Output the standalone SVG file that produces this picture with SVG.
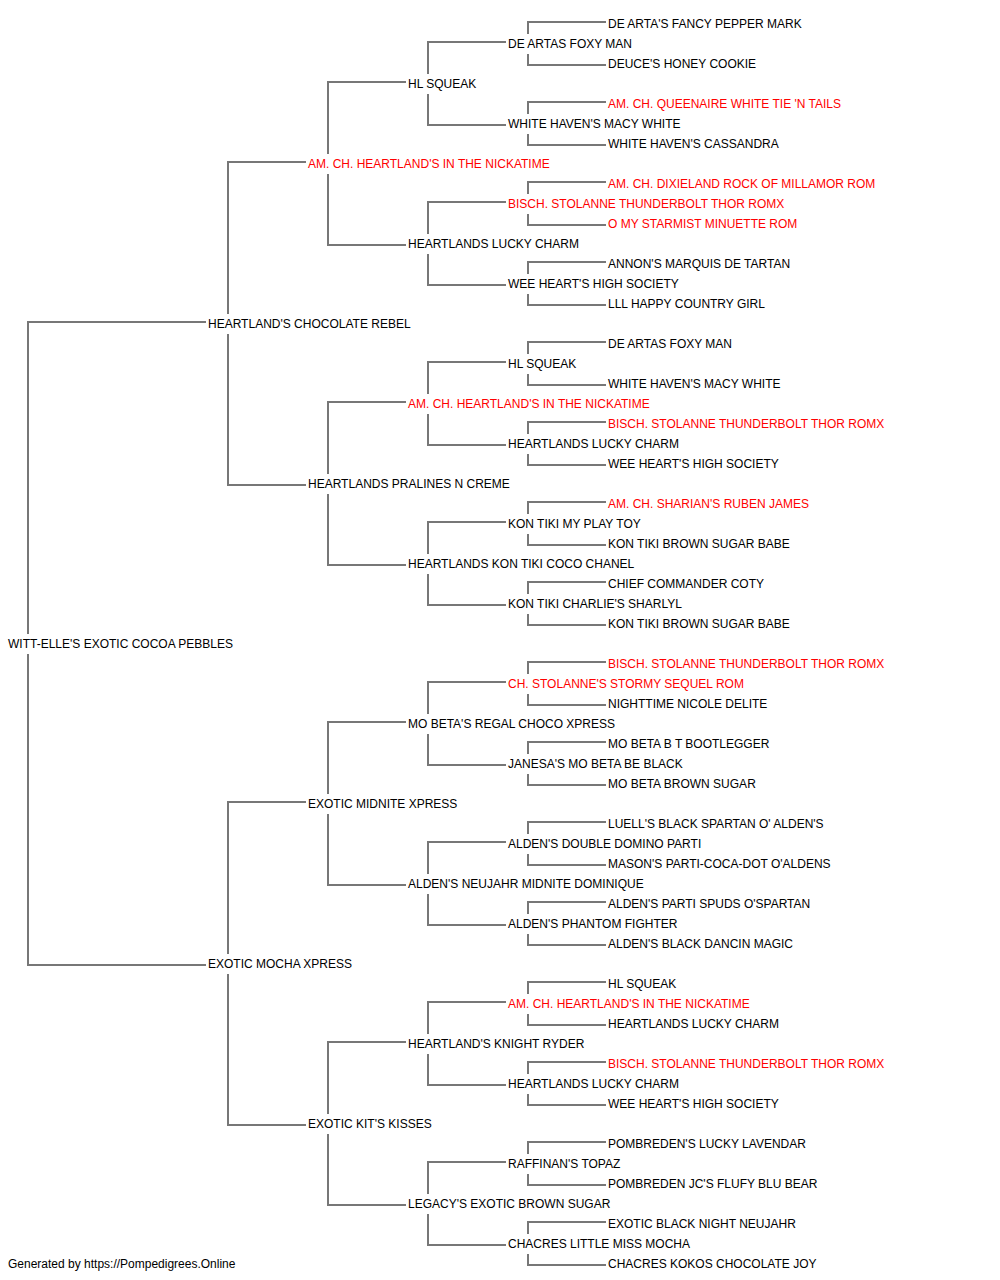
<svg xmlns="http://www.w3.org/2000/svg" width="1000" height="1280" viewBox="0 0 1000 1280">
<style>
text{font-family:"Liberation Sans",Arial,sans-serif;font-size:12px;fill:#000}
text.ch{fill:#ff0000}
#connectors path{fill:none;stroke:#777;stroke-width:2}
</style>
<rect width="1000" height="1280" fill="#fff"/>
<g id="connectors">
<path d="M206 322H28V634M28 654V965H206"/>
<path d="M306 162H228V314M228 334V485H306"/>
<path d="M306 802H228V954M228 974V1125H306"/>
<path d="M406 82H328V154M328 174V245H406"/>
<path d="M406 402H328V474M328 494V565H406"/>
<path d="M406 722H328V794M328 814V885H406"/>
<path d="M406 1042H328V1114M328 1134V1205H406"/>
<path d="M506 42H428V74M428 94V125H506"/>
<path d="M506 202H428V234M428 254V285H506"/>
<path d="M506 362H428V394M428 414V445H506"/>
<path d="M506 522H428V554M428 574V605H506"/>
<path d="M506 682H428V714M428 734V765H506"/>
<path d="M506 842H428V874M428 894V925H506"/>
<path d="M506 1002H428V1034M428 1054V1085H506"/>
<path d="M506 1162H428V1194M428 1214V1245H506"/>
<path d="M606 22H528V34M528 54V65H606"/>
<path d="M606 102H528V114M528 134V145H606"/>
<path d="M606 182H528V194M528 214V225H606"/>
<path d="M606 262H528V274M528 294V305H606"/>
<path d="M606 342H528V354M528 374V385H606"/>
<path d="M606 422H528V434M528 454V465H606"/>
<path d="M606 502H528V514M528 534V545H606"/>
<path d="M606 582H528V594M528 614V625H606"/>
<path d="M606 662H528V674M528 694V705H606"/>
<path d="M606 742H528V754M528 774V785H606"/>
<path d="M606 822H528V834M528 854V865H606"/>
<path d="M606 902H528V914M528 934V945H606"/>
<path d="M606 982H528V994M528 1014V1025H606"/>
<path d="M606 1062H528V1074M528 1094V1105H606"/>
<path d="M606 1142H528V1154M528 1174V1185H606"/>
<path d="M606 1222H528V1234M528 1254V1265H606"/>
</g>
<g id="nodes">
<g id="n0"><text x="608" y="28">DE ARTA'S FANCY PEPPER MARK</text></g>
<g id="n1"><text x="508" y="48">DE ARTAS FOXY MAN</text></g>
<g id="n2"><text x="608" y="68">DEUCE'S HONEY COOKIE</text></g>
<g id="n3"><text x="408" y="88">HL SQUEAK</text></g>
<g id="n4"><text class="ch" x="608" y="108">AM. CH. QUEENAIRE WHITE TIE 'N TAILS</text></g>
<g id="n5"><text x="508" y="128">WHITE HAVEN'S MACY WHITE</text></g>
<g id="n6"><text x="608" y="148">WHITE HAVEN'S CASSANDRA</text></g>
<g id="n7"><text class="ch" x="308" y="168">AM. CH. HEARTLAND'S IN THE NICKATIME</text></g>
<g id="n8"><text class="ch" x="608" y="188">AM. CH. DIXIELAND ROCK OF MILLAMOR ROM</text></g>
<g id="n9"><text class="ch" x="508" y="208">BISCH. STOLANNE THUNDERBOLT THOR ROMX</text></g>
<g id="n10"><text class="ch" x="608" y="228">O MY STARMIST MINUETTE ROM</text></g>
<g id="n11"><text x="408" y="248">HEARTLANDS LUCKY CHARM</text></g>
<g id="n12"><text x="608" y="268">ANNON'S MARQUIS DE TARTAN</text></g>
<g id="n13"><text x="508" y="288">WEE HEART'S HIGH SOCIETY</text></g>
<g id="n14"><text x="608" y="308">LLL HAPPY COUNTRY GIRL</text></g>
<g id="n15"><text x="208" y="328">HEARTLAND'S CHOCOLATE REBEL</text></g>
<g id="n16"><text x="608" y="348">DE ARTAS FOXY MAN</text></g>
<g id="n17"><text x="508" y="368">HL SQUEAK</text></g>
<g id="n18"><text x="608" y="388">WHITE HAVEN'S MACY WHITE</text></g>
<g id="n19"><text class="ch" x="408" y="408">AM. CH. HEARTLAND'S IN THE NICKATIME</text></g>
<g id="n20"><text class="ch" x="608" y="428">BISCH. STOLANNE THUNDERBOLT THOR ROMX</text></g>
<g id="n21"><text x="508" y="448">HEARTLANDS LUCKY CHARM</text></g>
<g id="n22"><text x="608" y="468">WEE HEART'S HIGH SOCIETY</text></g>
<g id="n23"><text x="308" y="488">HEARTLANDS PRALINES N CREME</text></g>
<g id="n24"><text class="ch" x="608" y="508">AM. CH. SHARIAN'S RUBEN JAMES</text></g>
<g id="n25"><text x="508" y="528">KON TIKI MY PLAY TOY</text></g>
<g id="n26"><text x="608" y="548">KON TIKI BROWN SUGAR BABE</text></g>
<g id="n27"><text x="408" y="568">HEARTLANDS KON TIKI COCO CHANEL</text></g>
<g id="n28"><text x="608" y="588">CHIEF COMMANDER COTY</text></g>
<g id="n29"><text x="508" y="608">KON TIKI CHARLIE'S SHARLYL</text></g>
<g id="n30"><text x="608" y="628">KON TIKI BROWN SUGAR BABE</text></g>
<g id="n31"><text x="8" y="648">WITT-ELLE'S EXOTIC COCOA PEBBLES</text></g>
<g id="n32"><text class="ch" x="608" y="668">BISCH. STOLANNE THUNDERBOLT THOR ROMX</text></g>
<g id="n33"><text class="ch" x="508" y="688">CH. STOLANNE'S STORMY SEQUEL ROM</text></g>
<g id="n34"><text x="608" y="708">NIGHTTIME NICOLE DELITE</text></g>
<g id="n35"><text x="408" y="728">MO BETA'S REGAL CHOCO XPRESS</text></g>
<g id="n36"><text x="608" y="748">MO BETA B T BOOTLEGGER</text></g>
<g id="n37"><text x="508" y="768">JANESA'S MO BETA BE BLACK</text></g>
<g id="n38"><text x="608" y="788">MO BETA BROWN SUGAR</text></g>
<g id="n39"><text x="308" y="808">EXOTIC MIDNITE XPRESS</text></g>
<g id="n40"><text x="608" y="828">LUELL'S BLACK SPARTAN O' ALDEN'S</text></g>
<g id="n41"><text x="508" y="848">ALDEN'S DOUBLE DOMINO PARTI</text></g>
<g id="n42"><text x="608" y="868">MASON'S PARTI-COCA-DOT O'ALDENS</text></g>
<g id="n43"><text x="408" y="888">ALDEN'S NEUJAHR MIDNITE DOMINIQUE</text></g>
<g id="n44"><text x="608" y="908">ALDEN'S PARTI SPUDS O'SPARTAN</text></g>
<g id="n45"><text x="508" y="928">ALDEN'S PHANTOM FIGHTER</text></g>
<g id="n46"><text x="608" y="948">ALDEN'S BLACK DANCIN MAGIC</text></g>
<g id="n47"><text x="208" y="968">EXOTIC MOCHA XPRESS</text></g>
<g id="n48"><text x="608" y="988">HL SQUEAK</text></g>
<g id="n49"><text class="ch" x="508" y="1008">AM. CH. HEARTLAND'S IN THE NICKATIME</text></g>
<g id="n50"><text x="608" y="1028">HEARTLANDS LUCKY CHARM</text></g>
<g id="n51"><text x="408" y="1048">HEARTLAND'S KNIGHT RYDER</text></g>
<g id="n52"><text class="ch" x="608" y="1068">BISCH. STOLANNE THUNDERBOLT THOR ROMX</text></g>
<g id="n53"><text x="508" y="1088">HEARTLANDS LUCKY CHARM</text></g>
<g id="n54"><text x="608" y="1108">WEE HEART'S HIGH SOCIETY</text></g>
<g id="n55"><text x="308" y="1128">EXOTIC KIT'S KISSES</text></g>
<g id="n56"><text x="608" y="1148">POMBREDEN'S LUCKY LAVENDAR</text></g>
<g id="n57"><text x="508" y="1168">RAFFINAN'S TOPAZ</text></g>
<g id="n58"><text x="608" y="1188">POMBREDEN JC'S FLUFY BLU BEAR</text></g>
<g id="n59"><text x="408" y="1208">LEGACY'S EXOTIC BROWN SUGAR</text></g>
<g id="n60"><text x="608" y="1228">EXOTIC BLACK NIGHT NEUJAHR</text></g>
<g id="n61"><text x="508" y="1248">CHACRES LITTLE MISS MOCHA</text></g>
<g id="n62"><text x="608" y="1268">CHACRES KOKOS CHOCOLATE JOY</text></g>
</g>
<text x="8" y="1268">Generated by https://Pompedigrees.Online</text>
</svg>
